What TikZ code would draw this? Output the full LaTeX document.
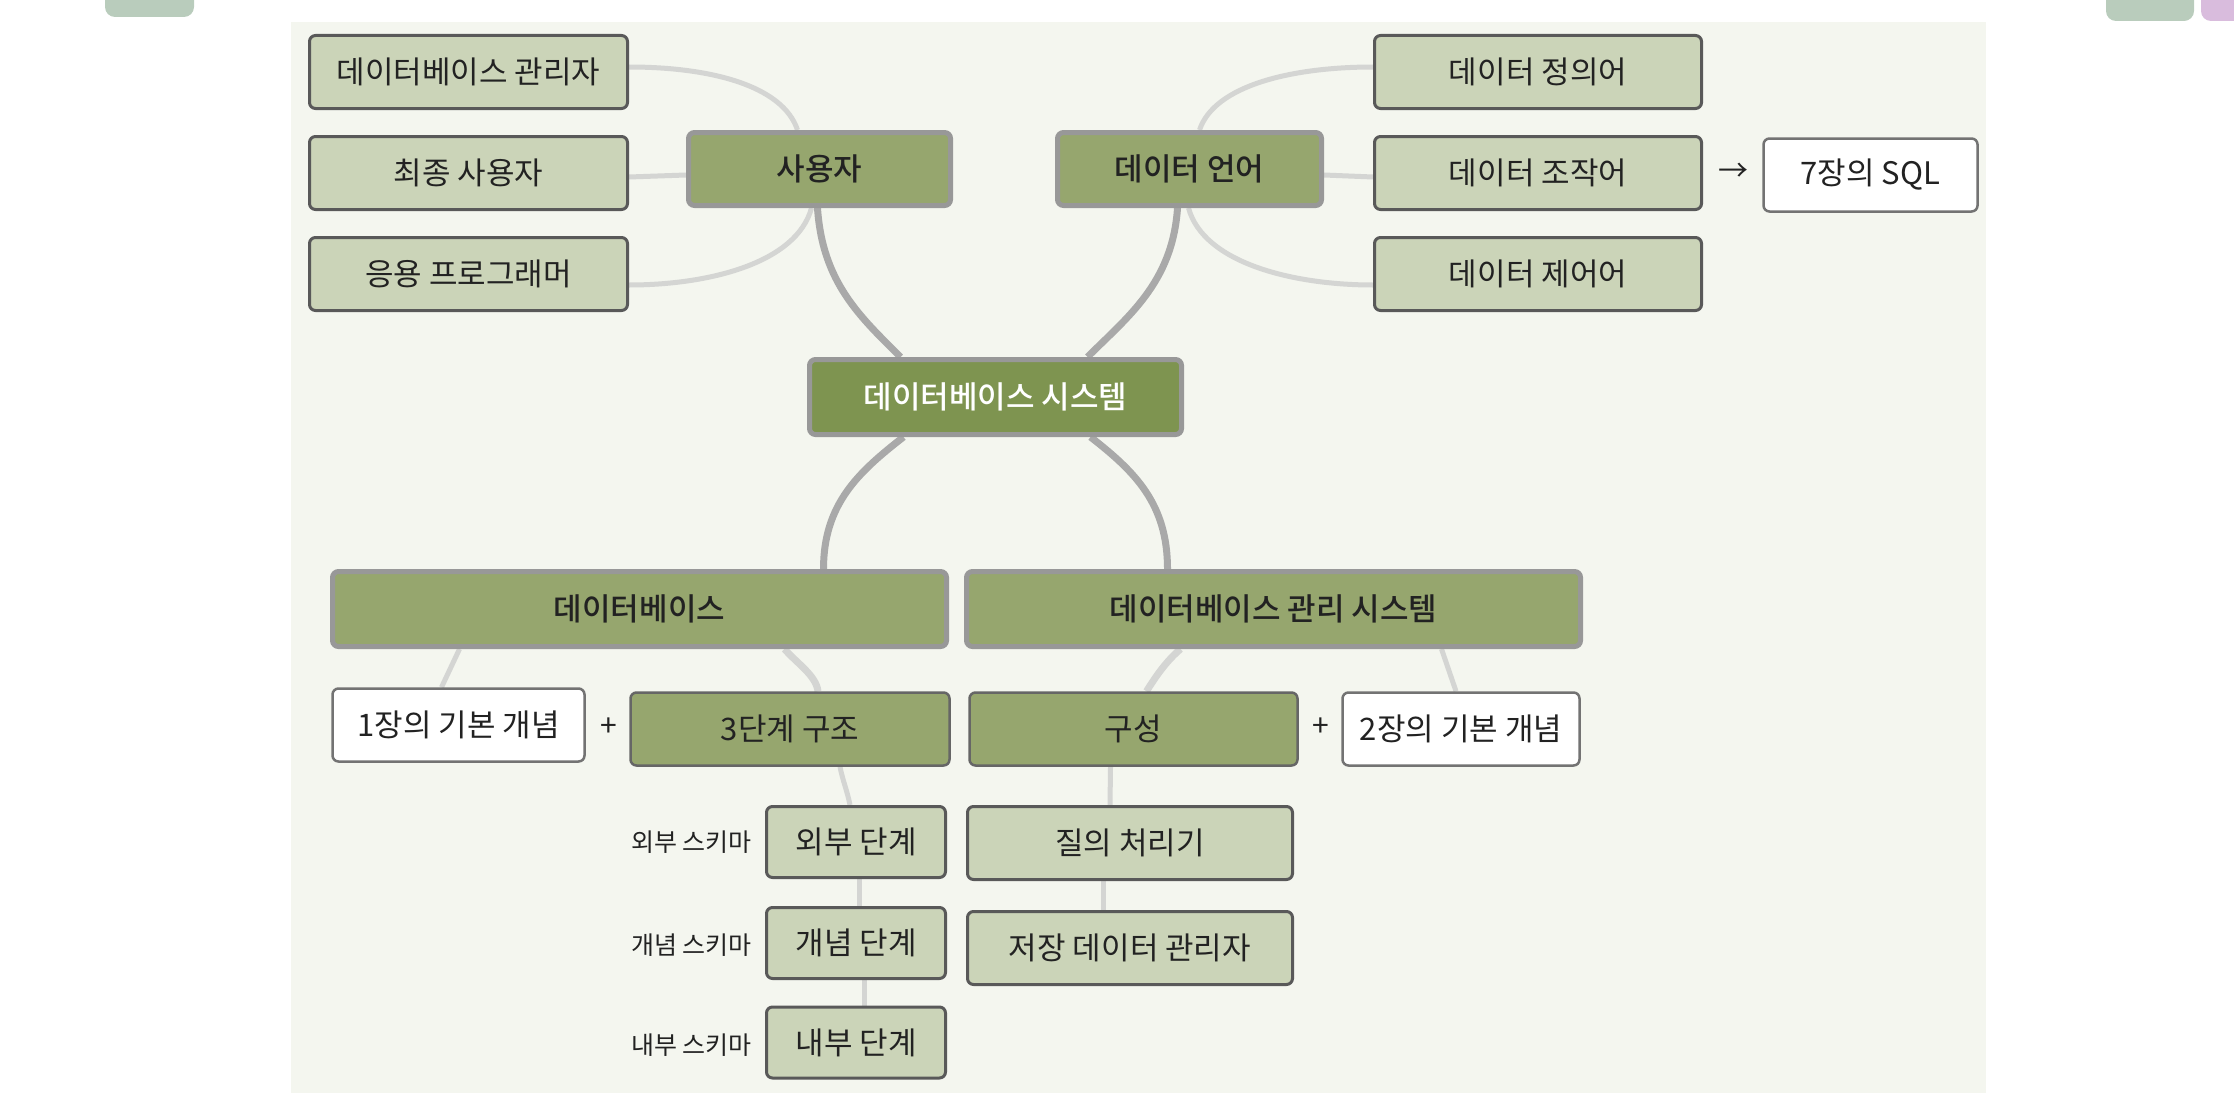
\documentclass[tikz,border=0pt]{standalone}
\usepackage{fontspec}
\setmainfont{Noto Sans CJK KR}[BoldFont={* Medium}]
\usepackage{xcolor}
\usetikzlibrary{calc}

\definecolor{panel}{HTML}{F4F6EF}
\definecolor{darkgreen}{HTML}{7E9450}
\definecolor{midgreen}{HTML}{96A66E}
\definecolor{lightgreen}{HTML}{CBD4B8}
\definecolor{ink}{HTML}{222222}
\definecolor{trunkgrey}{HTML}{A9A9A9}
\definecolor{twiggrey}{HTML}{D4D5D3}
\definecolor{tabgreen}{HTML}{B9CCBC}
\definecolor{tabpink}{HTML}{D9BCDD}

\pgfdeclarelayer{back}
\pgfdeclarelayer{wires}
\pgfsetlayers{back,wires,main}

\tikzset{
    box/.style={rounded corners=6pt, inner sep=0pt, text=ink,
        font=\fontsize{31}{35}\selectfont},
    hub/.style={box, fill=darkgreen, draw=trunkgrey!90!black, line width=5pt,
        text=white, font=\fontsize{31}{35}\selectfont\bfseries},
    head/.style={box, fill=midgreen, draw=trunkgrey!90!black, line width=5pt,
        font=\fontsize{31}{35}\selectfont\bfseries},
    sub/.style={box, fill=midgreen, draw=black!60, line width=2.5pt},
    leaf/.style={box, fill=lightgreen, draw=black!65, line width=3pt},
    note/.style={box, fill=white, draw=black!55, line width=2.5pt},
    sign/.style={inner sep=0pt, text=ink, font=\fontsize{30}{34}\selectfont},
    tag/.style={inner sep=0pt, anchor=east, text=ink, font=\fontsize{25}{30}\selectfont},
    trunk/.style={draw=trunkgrey, line width=7pt},
    twig/.style={draw=twiggrey, line width=5pt},
    twigthick/.style={draw=twiggrey, line width=7pt}
}

\begin{document}
\begin{tikzpicture}[x=1pt, y=-1pt]
        \useasboundingbox (0,0) rectangle (2234,1108);

        \coordinate (S) at (995.5,397);
        \coordinate (U) at (819.5,169);
        \coordinate (L) at (1189.5,169);
        \coordinate (D) at (639.5,609);
        \coordinate (M) at (1273.5,609);

        \begin{pgfonlayer}{back}
            \fill[panel] (291,22) rectangle (1986,1093);
            \fill[tabgreen, rounded corners=10pt] (105,-20) rectangle (194,17);
            \fill[tabgreen, rounded corners=10pt] (2106,-20) rectangle (2194,21);
            \fill[tabpink, rounded corners=10pt] (2201,-20) rectangle (2264,21);
        \end{pgfonlayer}

        \node[hub, minimum width=372, minimum height=75] (Sys) at (S) {데이터베이스 시스템};

        \node[head, minimum width=262, minimum height=73] (User) at (U) {사용자};
        \node[leaf, minimum width=318, minimum height=73] (U1) at (468.5,72) {데이터베이스 관리자};
        \node[leaf, minimum width=318, minimum height=73] (U2) at (468.5,173) {최종 사용자};
        \node[leaf, minimum width=318, minimum height=73] (U3) at (468.5,274) {응용 프로그래머};

        \node[head, minimum width=264, minimum height=73] (Lang) at (L) {데이터 언어};
        \node[leaf, minimum width=327, minimum height=73] (L1) at (1538,72) {데이터 정의어};
        \node[leaf, minimum width=327, minimum height=73] (L2) at (1538,173) {데이터 조작어};
        \node[leaf, minimum width=327, minimum height=73] (L3) at (1538,274) {데이터 제어어};
        \node[sign] (Arr) at (1733,172) {→};
        \node[note, minimum width=214, minimum height=73] (SQL) at (1870.5,175) {7장의 SQL};

        \node[head, minimum width=614, minimum height=75] (DB) at (D) {데이터베이스};
        \node[note, minimum width=252, minimum height=73] (D1) at (458.5,725) {1장의 기본 개념};
        \node[sign] (P1) at (609,727) {+};
        \node[sub, minimum width=319, minimum height=73] (D2) at (790,729) {3단계 구조};
        \node[leaf, minimum width=179, minimum height=71] (E1) at (856,842) {외부 단계};
        \node[leaf, minimum width=179, minimum height=71] (E2) at (856,943) {개념 단계};
        \node[leaf, minimum width=179, minimum height=71] (E3) at (856,1042.5) {내부 단계};
        \node[tag] (T1) at (752,842) {외부 스키마};
        \node[tag] (T2) at (752,945) {개념 스키마};
        \node[tag] (T3) at (752,1045) {내부 스키마};

        \node[head, minimum width=614, minimum height=75] (DBMS) at (M) {데이터베이스 관리 시스템};
        \node[sub, minimum width=328, minimum height=73] (M1) at (1133.5,729) {구성};
        \node[sign] (P2) at (1321,727) {+};
        \node[note, minimum width=237, minimum height=73] (M2) at (1461,729) {2장의 기본 개념};
        \node[leaf, minimum width=325, minimum height=73] (M3) at (1130,843) {질의 처리기};
        \node[leaf, minimum width=325, minimum height=73] (M4) at (1130,948) {저장 데이터 관리자};

        \begin{pgfonlayer}{wires}
            \draw[trunk] ([xshift=-2pt]User.south) .. controls +(5,75) and +(-40,-40) .. ([xshift=-95pt]Sys.north);
            \draw[trunk] ([xshift=-12pt]Lang.south) .. controls +(-5,75) and +(40,-40) .. ([xshift=92pt]Sys.north);
            \draw[trunk] ([xshift=-92pt]Sys.south) .. controls +(-45,35) and +(0,-65) .. ([xshift=184pt]DB.north);
            \draw[trunk] ([xshift=95pt]Sys.south) .. controls +(45,35) and +(0,-65) .. ([xshift=-106pt]DBMS.north);

            \draw[twig] ([xshift=-22pt]User.north) .. controls +(-15,-45) and +(80,0) .. ([yshift=5pt]U1.east);
            \draw[twig] ([yshift=-6pt]User.west) -- ([yshift=-4pt]U2.east);
            \draw[twig] ([xshift=-8pt]User.south) .. controls +(-15,55) and +(80,0) .. ([yshift=-11pt]U3.east);

            \draw[twig] ([xshift=10pt]Lang.north) .. controls +(15,-45) and +(-80,0) .. ([yshift=5pt]L1.west);
            \draw[twig] ([yshift=-6pt]Lang.east) -- ([yshift=-4pt]L2.west);
            \draw[twig] ([xshift=-1pt]Lang.south) .. controls +(15,55) and +(-80,0) .. ([yshift=-11pt]L3.west);

            \draw[twig] ([xshift=-180pt]DB.south) -- ([xshift=-17pt]D1.north);
            \draw[twigthick] ([xshift=145pt]DB.south) .. controls +(12,14) and +(-2,-16) .. ([xshift=28pt]D2.north);
            \draw[twig] ([xshift=50pt]D2.south) .. controls +(3,15) and +(-3,-15) .. ([xshift=-6pt]E1.north);
            \draw[twig] ([xshift=3pt]E1.south) -- ([xshift=3pt]E2.north);
            \draw[twig] ([xshift=8pt]E2.south) -- ([xshift=8pt]E3.north);

            \draw[twigthick] ([xshift=-93pt]DBMS.south) .. controls +(-14,12) and +(10,-16) .. ([xshift=13pt]M1.north);
            \draw[twig] ([xshift=-23pt]M1.south) -- ([xshift=-20pt]M3.north);
            \draw[twig] ([xshift=-27pt]M3.south) -- ([xshift=-27pt]M4.north);
            \draw[twig] ([xshift=168pt]DBMS.south) -- ([xshift=-5pt]M2.north);
        \end{pgfonlayer}

    \end{tikzpicture}
\end{document}
